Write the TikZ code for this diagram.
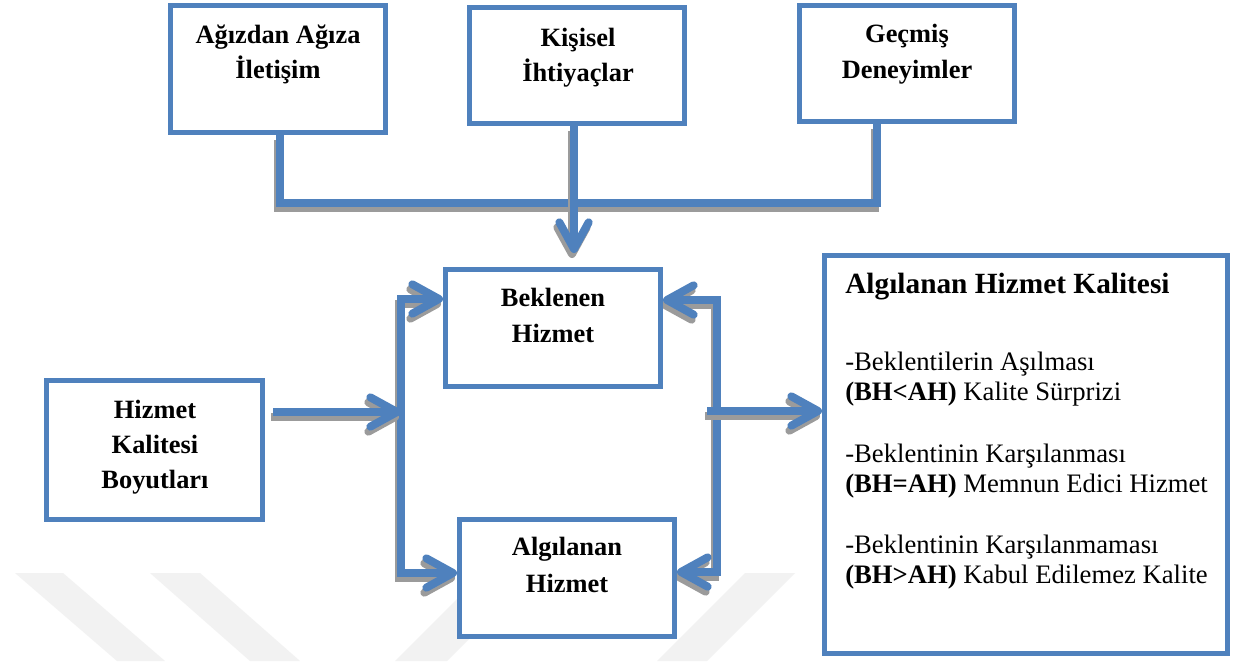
\documentclass[tikz,border=0pt]{standalone}
\usepackage{fontspec}
\setmainfont{Liberation Serif}
\usetikzlibrary{arrows.meta}
\definecolor{wblue}{RGB}{79,129,189}
\definecolor{shgray}{RGB}{155,155,155}
\definecolor{wmark}{RGB}{242,242,242}
\pgfdeclarelayer{bg}
\pgfsetlayers{bg,main}
\begin{document}
\begin{tikzpicture}[x=0.75pt,y=-0.75pt,
  box/.style={draw=wblue, line width=3.75pt, fill=white, rectangle, inner sep=0pt, minimum width=161.25pt},
  lbl/.style={anchor=base, font=\fontsize{19.8pt}{24pt}\selectfont\bfseries, inner sep=0pt},
  body/.style={anchor=base west, font=\fontsize{20pt}{24pt}\selectfont, inner sep=0pt},
  ttl/.style={anchor=base west, font=\fontsize{22pt}{26pt}\selectfont\bfseries, inner sep=0pt},
  wtip/.tip={Straight Barb[length=20pt,width=22pt,round]},
  conn/.style={draw=wblue, line width=6pt, line join=miter,
    preaction={draw=shgray, line width=6pt, transform canvas={shift={(-1.5pt,-3.75pt)}}}},
  wm/.style={fill=wmark}
]
\useasboundingbox (0,0) rectangle (1242,661);

% coordinates for connectors
\coordinate (ja) at (280,203);
\coordinate (jb) at (574,203);
\coordinate (jc) at (877,203);
\coordinate (jbe) at (574,253);
\coordinate (lt) at (401,299);
\coordinate (lb) at (401,573);
\coordinate (rt) at (717,300);
\coordinate (rb) at (717,572);
\coordinate (hks) at (273,412);
\coordinate (hke) at (401,412);
\coordinate (ro) at (707,411);

% boxes
\node[box, minimum height=95.25pt] (A) at (278,69) {};
\node[box, minimum height=87pt] (B) at (577,65.5) {};
\node[box, minimum height=87pt] (C) at (907,63.5) {};
\node[box, minimum height=87.75pt] (bek) at (553,328) {};
\node[box, minimum height=87.75pt] (alg) at (567,578) {};
\node[box, minimum width=162pt, minimum height=104.25pt] (hkb) at (154.5,450) {};
\node[box, minimum width=302.25pt, minimum height=298.5pt] (big) at (1026,454.5) {};

\begin{pgfonlayer}{bg}
\fill[white] (0,0) rectangle (1242,661);
% faint watermark bands
\fill[wm] (15,573) -- (63,573) -- (165,661) -- (117,661) -- cycle;
\fill[wm] (150,573) -- (200,573) -- (300,661) -- (250,661) -- cycle;
\fill[wm] (745,573) -- (795,573) -- (707,661) -- (657,661) -- cycle;
\fill[wm] (483,573) -- (535,573) -- (447,661) -- (395,661) -- cycle;
% connectors
\draw[conn] (A.south -| ja) -- (ja) -- (jc) -- (C.south -| jc);
\draw[conn,-wtip] (B.south -| jb) -- (jbe);
\draw[conn,wtip-wtip] (lt -| bek.west) -- (lt) -- (lb) -- (lb -| alg.west);
\draw[conn,wtip-wtip] (rt -| bek.east) -- (rt) -- (rb) -- (rb -| alg.east);
\draw[conn,-wtip] (hks) -- (hke);
\draw[conn,-wtip] (ro) -- (ro -| big.west);
\end{pgfonlayer}

% labels
\node[lbl] (A1) at (278,43) {Ağızdan Ağıza};
\node[lbl] (A2) at (278,78) {İletişim};
\node[lbl] (B1) at (578,46) {Kişisel};
\node[lbl] (B2) at (578,81) {İhtiyaçlar};
\node[lbl] (C1) at (907,42) {Geçmiş};
\node[lbl] (C2) at (907,78) {Deneyimler};
\node[lbl] (bek1) at (553,306) {Beklenen};
\node[lbl] (bek2) at (553,342) {Hizmet};
\node[lbl] (alg1) at (567,555) {Algılanan};
\node[lbl] (alg2) at (567,592) {Hizmet};
\node[lbl] (hkb1) at (155,418) {Hizmet};
\node[lbl] (hkb2) at (155,453) {Kalitesi};
\node[lbl] (hkb3) at (155,488) {Boyutları};

\node[ttl] (q0) at (845,293) {Algılanan Hizmet Kalitesi};
\node[body] (q1) at (845,370) {-Beklentilerin Aşılması};
\node[body] (q2) at (845,400) {\textbf{(BH<AH)} Kalite Sürprizi};
\node[body] (q3) at (845,462) {-Beklentinin Karşılanması};
\node[body] (q4) at (845,492) {\textbf{(BH=AH)} Memnun Edici Hizmet};
\node[body] (q5) at (845,553) {-Beklentinin Karşılanmaması};
\node[body] (q6) at (845,583) {\textbf{(BH>AH)} Kabul Edilemez Kalite};
\end{tikzpicture}
\end{document}
